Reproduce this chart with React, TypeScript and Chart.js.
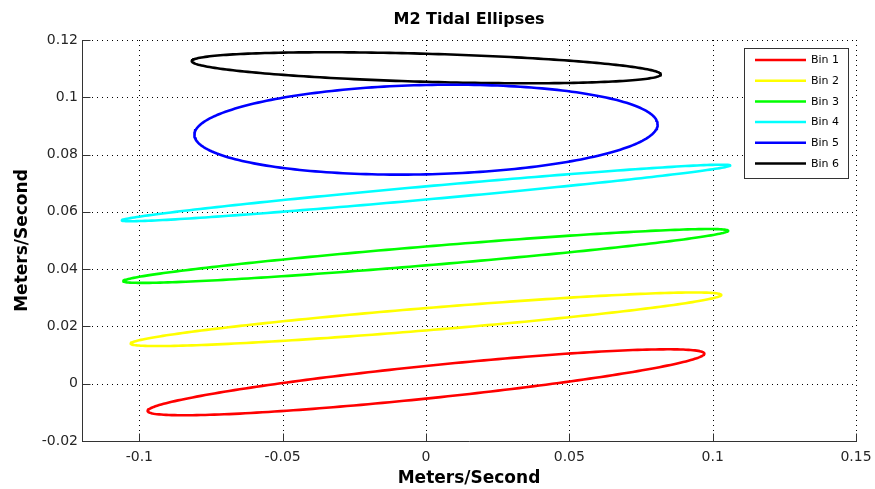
import React, { useEffect, useRef } from 'react';
import { Chart, registerables } from 'chart.js';

Chart.register(...registerables);

// ---- Data (metres/second) ----
const binLabels = ['Bin 1', 'Bin 2', 'Bin 3', 'Bin 4', 'Bin 5', 'Bin 6'];
const binColors = ['#ff0000', '#ffff00', '#00ff00', '#00ffff', '#0000ff', '#000000'];
// tidal ellipse parameters per bin
const centerU = [0.0, 0.0, -0.0001, 0.0, 0.0, 0.0001];
const centerV = [0.0005, 0.0225, 0.0446, 0.0666, 0.0887, 0.1103];
const eastReachU = [0.0971, 0.1030, 0.1055, 0.1061, 0.0808, 0.0818];
const eastReachV = [0.0100, 0.0085, 0.0088, 0.0096, 0.0018, -0.0023];
const halfChordV = [0.0057, 0.0039, 0.0033, 0.0023, 0.0156, 0.0049];

const xTickValues = [-0.1, -0.05, 0, 0.05, 0.1, 0.15];
const xTickLabels = ['-0.1', '-0.05', '0', '0.05', '0.1', '0.15'];
const yTickValues = [-0.02, 0, 0.02, 0.04, 0.06, 0.08, 0.1, 0.12];
const yTickLabels = ['-0.02', '0', '0.02', '0.04', '0.06', '0.08', '0.1', '0.12'];

const titleText = 'M2 Tidal Ellipses';
const xTitle = 'Meters/Second';
const yTitle = 'Meters/Second';

function ellipsePoints(i: number) {
  const pts: { x: number; y: number }[] = [];
  const n = 240;
  for (let k = 0; k <= n; k++) {
    const t = (k / n) * Math.PI * 2;
    pts.push({
      x: centerU[i] + eastReachU[i] * Math.cos(t),
      y: centerV[i] + eastReachV[i] * Math.cos(t) + halfChordV[i] * Math.sin(t),
    });
  }
  return pts;
}

const axesPlugin = {
  id: 'matlabAxes',
  beforeDatasetsDraw(chart: any) {
    const { ctx, chartArea } = chart;
    const xs = chart.scales.x;
    const ys = chart.scales.y;
    const { left, right, top, bottom } = chartArea;
    ctx.save();
    ctx.strokeStyle = '#000';
    ctx.lineWidth = 1;
    ctx.setLineDash([1, 4]);
    for (const v of xTickValues) {
      const px = Math.round(xs.getPixelForValue(v)) + 0.5;
      ctx.beginPath();
      ctx.moveTo(px, bottom);
      ctx.lineTo(px, top);
      ctx.stroke();
    }
    for (const v of yTickValues) {
      const py = Math.round(ys.getPixelForValue(v)) + 0.5;
      ctx.beginPath();
      ctx.moveTo(left, py);
      ctx.lineTo(right, py);
      ctx.stroke();
    }
    ctx.setLineDash([]);
    ctx.strokeStyle = '#333';
    const L = Math.round(left) + 0.5;
    const B = Math.round(bottom) + 0.5;
    ctx.beginPath();
    ctx.moveTo(L, Math.round(top));
    ctx.lineTo(L, B);
    ctx.lineTo(Math.round(right) + 1, B);
    ctx.stroke();
    for (const v of xTickValues) {
      const px = Math.round(xs.getPixelForValue(v)) + 0.5;
      ctx.beginPath();
      ctx.moveTo(px, B);
      ctx.lineTo(px, B - 8);
      ctx.stroke();
    }
    for (const v of yTickValues) {
      const py = Math.round(ys.getPixelForValue(v)) + 0.5;
      ctx.beginPath();
      ctx.moveTo(L, py);
      ctx.lineTo(L + 8, py);
      ctx.stroke();
    }
    ctx.restore();
  },
  afterDraw(chart: any) {
    const { ctx } = chart;
    ctx.save();
    const bx = 744.5, by = 48.5, bw = 104, bh = 130;
    ctx.fillStyle = '#fff';
    ctx.fillRect(bx, by, bw, bh);
    ctx.strokeStyle = '#333';
    ctx.lineWidth = 1;
    ctx.strokeRect(bx, by, bw, bh);
    ctx.font = '11px "DejaVu Sans"';
    ctx.textBaseline = 'middle';
    ctx.textAlign = 'left';
    chart.data.datasets.forEach((ds: any, i: number) => {
      const y = 60 + i * 20.7;
      ctx.strokeStyle = ds.borderColor;
      ctx.lineWidth = 2.5;
      ctx.beginPath();
      ctx.moveTo(755, y);
      ctx.lineTo(806, y);
      ctx.stroke();
      ctx.fillStyle = '#000';
      ctx.fillText(ds.label, 811, y + 0.5);
    });
    ctx.restore();
  },
};

export default function App() {
  const ref = useRef<HTMLCanvasElement | null>(null);
  useEffect(() => {
    if (!ref.current) return;
    const chart = new Chart(ref.current, {
      type: 'scatter',
      data: {
        datasets: binLabels.map((label, i) => ({
          label,
          data: ellipsePoints(i),
          showLine: true,
          borderColor: binColors[i],
          backgroundColor: binColors[i],
          borderWidth: 2.6,
          borderJoinStyle: 'round',
          borderCapStyle: 'round',
          pointRadius: 0,
          pointHoverRadius: 0,
          fill: false,
          tension: 0,
        })),
      },
      options: {
        responsive: false,
        animation: false,
        events: [],
        layout: { padding: { left: 0, right: 19, top: 0, bottom: 0 } },
        plugins: {
          legend: { display: false },
          tooltip: { enabled: false },
          title: {
            display: true,
            text: titleText,
            fullSize: false,
            color: '#000',
            font: { family: 'DejaVu Sans', size: 16, weight: 'bold' },
            padding: { top: 10.4, bottom: 10.4 },
          },
        },
        scales: {
          x: {
            type: 'linear',
            min: -0.12,
            max: 0.15,
            afterBuildTicks: (s: any) => {
              s.ticks = xTickValues.map((v) => ({ value: v }));
            },
            afterFit: (s: any) => {
              s.height = 48;
              s.paddingLeft = 0;
              s.paddingRight = 0;
            },
            grid: { display: false, drawTicks: false },
            border: { display: false },
            ticks: {
              padding: 8,
              color: '#262626',
              font: { family: 'DejaVu Sans', size: 14 },
              maxRotation: 0,
              autoSkip: false,
              callback: (_v: any, idx: number) => xTickLabels[idx],
            },
            title: {
              display: true,
              text: xTitle,
              color: '#000',
              font: { family: 'DejaVu Sans', size: 17, weight: 'bold' },
              padding: { top: 0, bottom: 0 },
            },
          },
          y: {
            type: 'linear',
            min: -0.02,
            max: 0.12,
            afterBuildTicks: (s: any) => {
              s.ticks = yTickValues.map((v) => ({ value: v }));
            },
            afterFit: (s: any) => {
              s.width = 82;
              s.paddingTop = 0;
              s.paddingBottom = 0;
            },
            grid: { display: false, drawTicks: false },
            border: { display: false },
            ticks: {
              padding: 4,
              color: '#262626',
              font: { family: 'DejaVu Sans', size: 14 },
              autoSkip: false,
              callback: (_v: any, idx: number) => yTickLabels[idx],
            },
            title: {
              display: true,
              text: yTitle,
              color: '#000',
              font: { family: 'DejaVu Sans', size: 17, weight: 'bold' },
              padding: { top: 12.8, bottom: 0 },
            },
          },
        },
      },
      plugins: [axesPlugin],
    });
    return () => chart.destroy();
  }, []);
  return (
    <div style={{ position: 'absolute', left: 0, top: 0, width: 875, height: 489, background: '#fff' }}>
      <canvas ref={ref} width={875} height={489} />
    </div>
  );
}
